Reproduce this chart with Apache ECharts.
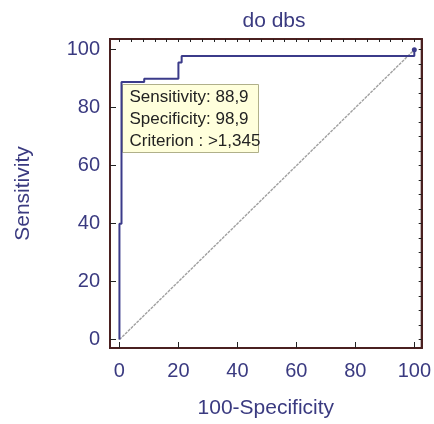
<!DOCTYPE html>
<html>
<head>
<meta charset="utf-8">
<script src="https://cdn.jsdelivr.net/npm/echarts@6/dist/echarts.min.js"></script>
<style>html,body{margin:0;padding:0;background:#fff;}#c{width:434px;height:424px;}</style>
</head>
<body>
<div id="c"></div>
<script>
const titleText = 'do dbs';
const xName = '100-Specificity';
const yName = 'Sensitivity';
const rocX = [0, 0, 0.7, 0.7, 8.4, 8.4, 20.0, 20.0, 21.1, 21.1, 100, 100];
const rocY = [0, 40, 40, 88.9, 88.9, 90.0, 90.0, 95.6, 95.6, 97.8, 97.8, 100];
const diagX = [0, 100];
const diagY = [0, 100];
const xMajorTicks = [0, 20, 40, 60, 80, 100];
const yMajorTicks = [0, 20, 40, 60, 80, 100];
const xMinorTicks = [0,4,8,12,16,20,24,28,32,36,40,44,48,52,56,60,64,68,72,76,80,84,88,92,96,100];
const yMinorTicks = [0,5,10,15,20,25,30,35,40,45,50,55,60,65,70,75,80,85,90,95,100];
const tipLines = ['Sensitivity: 88,9', 'Specificity: 98,9', 'Criterion : >1,345'];

const XMIN = -3.2, XMAX = 102.5, YMIN = -2.9, YMAX = 103.7;
const txt = '#3a3a80';
const frame = '#4a2020';
const FONT = 'Liberation Sans';

const chart = echarts.init(document.getElementById('c'));
const rocData = rocX.map((x, i) => [x, rocY[i]]);
rocData[rocData.length - 1] = {value: rocData[rocData.length - 1], symbol: 'circle', symbolSize: 5};

function xAxisBase(extra) {
  return Object.assign({
    type: 'value', min: XMIN, max: XMAX, gridIndex: 0,
    axisLine: {show: true, onZero: false, lineStyle: {color: frame, width: 2}},
    splitLine: {show: false}
  }, extra);
}
function yAxisBase(extra) {
  return Object.assign({
    type: 'value', min: YMIN, max: YMAX, gridIndex: 0,
    axisLine: {show: true, onZero: false, lineStyle: {color: frame, width: 2}},
    splitLine: {show: false}
  }, extra);
}

chart.setOption({
  animation: false,
  backgroundColor: '#fff',
  title: {text: titleText, left: 269, top: 6, textAlign: 'center',
    textStyle: {fontFamily: FONT, fontSize: 21, fontWeight: 'normal', color: txt}},
  grid: {left: 110, top: 39, width: 314, height: 318, show: true, borderColor: frame, borderWidth: 2, backgroundColor: '#fff'},
  xAxis: [
    xAxisBase({
      name: xName, nameLocation: 'middle', nameGap: 50,
      nameTextStyle: {fontFamily: FONT, fontSize: 21, color: txt},
      axisTick: {show: true, inside: true, length: 6, customValues: xMajorTicks, lineStyle: {color: '#222'}},
      axisLabel: {show: true, customValues: xMajorTicks, margin: 13, fontFamily: FONT, fontSize: 20, color: txt}
    }),
    xAxisBase({
      axisTick: {show: true, inside: true, length: 3, customValues: xMinorTicks, lineStyle: {color: '#222'}},
      axisLabel: {show: false}
    })
  ],
  yAxis: [
    yAxisBase({
      name: yName, nameLocation: 'middle', nameGap: 76, nameRotate: 90,
      nameTextStyle: {fontFamily: FONT, fontSize: 21, color: txt},
      axisTick: {show: true, inside: true, length: 6, customValues: yMajorTicks, lineStyle: {color: '#222'}},
      axisLabel: {show: true, customValues: yMajorTicks, margin: 10, fontFamily: FONT, fontSize: 20, color: txt}
    }),
    yAxisBase({
      axisTick: {show: true, inside: true, length: 3, customValues: yMinorTicks, lineStyle: {color: '#222'}},
      axisLabel: {show: false}
    })
  ],
  series: [
    {type: 'line', xAxisIndex: 0, yAxisIndex: 0, data: diagX.map((x, i) => [x, diagY[i]]),
      symbol: 'none', lineStyle: {color: '#a0a0a0', width: 1.4, type: [3, 1]}, z: 2},
    {type: 'line', xAxisIndex: 0, yAxisIndex: 0, data: rocData, symbol: 'none', showSymbol: true,
      itemStyle: {color: '#3b3b8a'}, lineStyle: {color: '#3b3b8a', width: 2}, z: 3}
  ],
  graphic: [{
    type: 'group', left: 122, top: 84, z: 10,
    children: [
      {type: 'rect', shape: {x: 0, y: 0, width: 136, height: 68},
        style: {fill: '#ffffdc', stroke: '#b0b08a', lineWidth: 1}},
      {type: 'text', x: 7, y: 2, style: {text: tipLines.join('\n'), fontFamily: FONT, fontSize: 17, lineHeight: 22, fill: '#222'}}
    ]
  }]
});
</script>
</body>
</html>
